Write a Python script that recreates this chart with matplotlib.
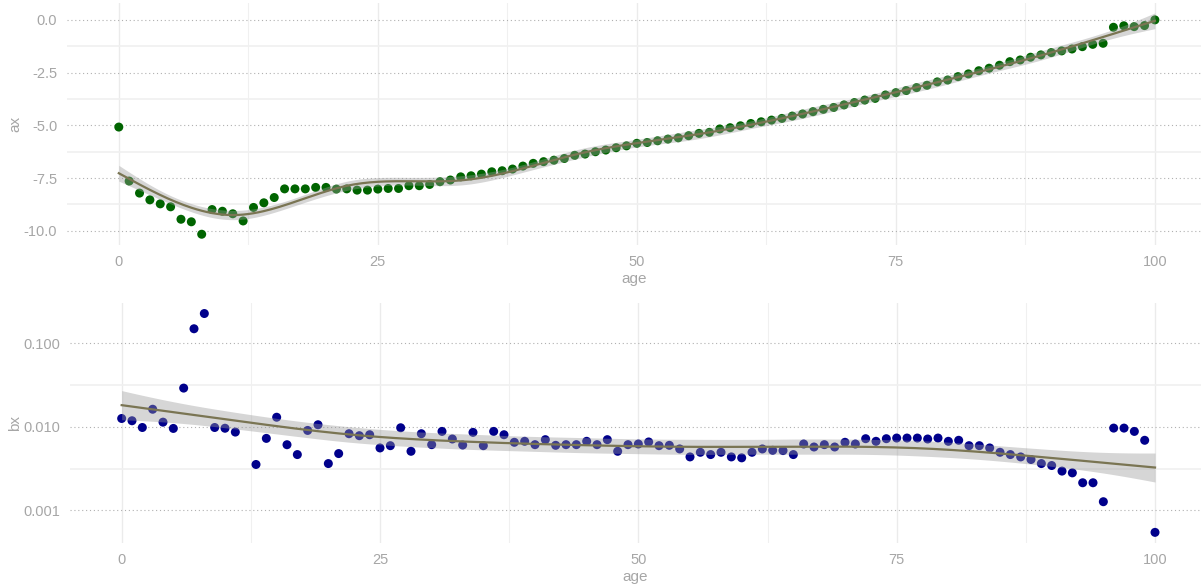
import numpy as np
import matplotlib
matplotlib.use("Agg")
import matplotlib.pyplot as plt
from matplotlib.ticker import FixedLocator, FixedFormatter

plt.rcParams['font.family'] = ['Liberation Sans', 'DejaVu Sans']

# ---------------- data ----------------
ages = list(range(0, 101))

ax_values = [
    -5.08, -7.64, -8.21, -8.53, -8.72, -8.86, -9.45, -9.57, -10.16, -8.99,
    -9.07, -9.19, -9.53, -8.89, -8.67, -8.42, -8.01, -8.01, -8.01, -7.94,
    -7.94, -8.02, -8.01, -8.07, -8.07, -8.02, -7.99, -7.99, -7.86, -7.86,
    -7.80, -7.67, -7.59, -7.44, -7.39, -7.31, -7.20, -7.15, -7.07, -6.93,
    -6.80, -6.72, -6.65, -6.57, -6.42, -6.36, -6.25, -6.17, -6.06, -5.97,
    -5.85, -5.81, -5.73, -5.65, -5.59, -5.49, -5.38, -5.33, -5.17, -5.11,
    -5.02, -4.91, -4.83, -4.75, -4.67, -4.56, -4.46, -4.35, -4.24, -4.15,
    -4.03, -3.92, -3.80, -3.72, -3.56, -3.45, -3.35, -3.21, -3.10, -2.94,
    -2.85, -2.69, -2.56, -2.41, -2.29, -2.15, -1.98, -1.90, -1.77, -1.66,
    -1.55, -1.47, -1.38, -1.27, -1.16, -1.11, -0.35, -0.28, -0.32, -0.27,
    0.00,
]

# age 12 has a non-positive bx and is dropped on the log scale
bx_values = [
    0.01256, 0.0118, 0.0098, 0.0162, 0.01135, 0.00955, 0.029, 0.1486, 0.226, 0.0098,
    0.0096, 0.00864, np.nan, 0.00354, 0.00726, 0.0130, 0.0061, 0.00465, 0.00904, 0.01057,
    0.00363, 0.00478, 0.00826, 0.00782, 0.00803, 0.00558, 0.00594, 0.00973, 0.00509, 0.00826,
    0.00611, 0.00880, 0.00714, 0.00605, 0.00857, 0.00594, 0.00880, 0.00803, 0.00652, 0.00670,
    0.00611, 0.00701, 0.00600, 0.00611, 0.00611, 0.00670, 0.00611, 0.00701, 0.00509, 0.00611,
    0.00622, 0.00658, 0.00594, 0.00600, 0.00543, 0.00436, 0.00495, 0.00465, 0.00495, 0.00436,
    0.00425, 0.00495, 0.00543, 0.00523, 0.00519, 0.00465, 0.00622, 0.00573, 0.00611, 0.00573,
    0.00652, 0.00622, 0.00720, 0.00670, 0.00720, 0.00733, 0.00733, 0.00733, 0.00714, 0.00733,
    0.00670, 0.00689, 0.00594, 0.00594, 0.00558, 0.00495, 0.00465, 0.00436, 0.00406, 0.00363,
    0.00344, 0.00295, 0.00281, 0.00214, 0.00214, 0.00127, 0.00964, 0.00964, 0.00880, 0.00689,
    0.000546,
]

x_ticks = [0, 25, 50, 75, 100]
x_tick_labels = ["0", "25", "50", "75", "100"]
ax_ticks = [0.0, -2.5, -5.0, -7.5, -10.0]
ax_tick_labels = ["0.0", "-2.5", "-5.0", "-7.5", "-10.0"]
bx_ticks = [0.1, 0.01, 0.001]
bx_tick_labels = ["0.100", "0.010", "0.001"]


# ---------------- penalised cubic regression spline (GAM-like smooth, REML) ----------------
def _ns_basis(knots):
    K = len(knots)
    kK = knots[-1]

    def d(k, xx, deriv):
        if deriv == 0:
            return (np.clip(xx - knots[k], 0, None) ** 3 - np.clip(xx - kK, 0, None) ** 3) / (kK - knots[k])
        return 6 * (np.clip(xx - knots[k], 0, None) - np.clip(xx - kK, 0, None)) / (kK - knots[k])

    def build(xx, deriv):
        if deriv == 0:
            cols = [np.ones_like(xx), xx]
        else:
            cols = [np.zeros_like(xx), np.zeros_like(xx)]
        for k in range(K - 2):
            cols.append(d(k, xx, deriv) - d(K - 2, xx, deriv))
        return np.column_stack(cols)

    return build


def gam_fit(x, y, xs, k=10, t=1.98, criterion="reml"):
    x = np.asarray(x, float)
    y = np.asarray(y, float)
    lo_, hi_ = x.min(), x.max()
    u = (x - lo_) / (hi_ - lo_)
    us = (np.asarray(xs, float) - lo_) / (hi_ - lo_)
    knots = np.linspace(0, 1, k)
    build = _ns_basis(knots)
    X = build(u, 0)
    grid = np.linspace(0, 1, 2001)
    D2 = build(grid, 2)
    S = (D2.T @ D2) * (grid[1] - grid[0])
    ev = np.linalg.eigvalsh(S)
    pos = ev[ev > ev.max() * 1e-9]
    r = len(pos)
    Mp = X.shape[1] - r
    n = len(y)
    XtX = X.T @ X
    Xty = X.T @ y
    best = None
    for lam in np.logspace(-8, 3, 400):
        Hm = XtX + lam * S
        M = np.linalg.inv(Hm)
        beta = M @ Xty
        rss = np.sum((y - X @ beta) ** 2)
        if criterion == "gcv":
            A_tr = np.trace(X @ M @ X.T)
            score = n * rss / (n - A_tr) ** 2
        else:
            pen = rss + lam * beta @ S @ beta
            phi = pen / (n - Mp)
            score = (n - Mp) * np.log(phi) - (r * np.log(lam) + np.sum(np.log(pos))) \
                + np.linalg.slogdet(Hm)[1]
        if best is None or score < best[0]:
            best = (score, lam, M, beta, rss)
    _, lam, M, beta, rss = best
    A_tr = np.trace(X @ M @ X.T)
    sigma2 = rss / (n - A_tr)
    Xs = build(us, 0)
    fit = Xs @ beta
    se = np.sqrt(sigma2 * np.einsum("ij,jk,ik->i", Xs, M, Xs))
    return fit, fit - t * se, fit + t * se


W, H = 1201, 588
fig = plt.figure(figsize=(W / 100, H / 100), dpi=100)

text_gray = "#a6a6a6"
grid_minor = "#f0f0f0"
grid_major = "#ebebeb"
line_col = "#7a7553"
ribbon_col = "#999999"


def px_axes(l, t, r, b):
    return fig.add_axes([l / W, 1 - b / H, (r - l) / W, (b - t) / H])


def style(a):
    for s in a.spines.values():
        s.set_visible(False)
    a.tick_params(which="both", length=0, colors=text_gray, labelsize=10.5, pad=7)
    a.set_xticks(x_ticks)
    a.set_xticklabels(x_tick_labels)
    a.set_xticks([12.5, 37.5, 62.5, 87.5], minor=True)
    a.grid(True, axis="x", which="major", color=grid_major, lw=1.0)
    a.grid(True, axis="x", which="minor", color=grid_minor, lw=0.8)
    a.grid(True, axis="y", which="major", color="#b0b0b0", lw=0.8, ls=(0, (1, 2.5)))
    a.grid(True, axis="y", which="minor", color=grid_minor, lw=1.2)
    a.set_axisbelow(True)
    a.set_xlabel("age", color=text_gray, fontsize=11, labelpad=2)
    a.set_facecolor("white")


xs = np.linspace(0, 100, 401)

# ---------------- top panel ----------------
a1 = px_axes(67, 3, 1201, 245)
style(a1)
a1.scatter(ages, ax_values, s=42, color="#006400", edgecolors="none", zorder=2)
f, lo, hi = gam_fit(ages, ax_values, xs)
a1.fill_between(xs, lo, hi, color=ribbon_col, alpha=0.4, lw=0, zorder=3)
a1.plot(xs, f, color=line_col, lw=1.6, zorder=4)
a1.set_xlim(-5, 104.45)
a1.set_ylim(-10.67, 0.80)
a1.set_yticks(ax_ticks)
a1.set_yticklabels(ax_tick_labels)
a1.yaxis.set_minor_locator(FixedLocator([-1.25, -3.75, -6.25, -8.75]))
a1.set_ylabel("ax", color=text_gray, fontsize=11, labelpad=1)

# ---------------- bottom panel ----------------
a2 = px_axes(70, 303, 1201, 543)
style(a2)
bx_arr = np.array(bx_values, float)
ok = ~np.isnan(bx_arr)
ages_arr = np.array(ages, float)
a2.set_yscale("log")
a2.scatter(ages_arr[ok], bx_arr[ok], s=42, color="#00008B", edgecolors="none", zorder=2)
f2, lo2, hi2 = gam_fit(ages_arr[ok], np.log10(bx_arr[ok]), xs)
a2.fill_between(xs, 10 ** lo2, 10 ** hi2, color=ribbon_col, alpha=0.4, lw=0, zorder=3)
a2.plot(xs, 10 ** f2, color=line_col, lw=1.6, zorder=4)
a2.set_xlim(-5, 104.45)
a2.set_ylim(10 ** -3.39, 10 ** -0.52)
a2.yaxis.set_major_locator(FixedLocator(bx_ticks))
a2.yaxis.set_major_formatter(FixedFormatter(bx_tick_labels))
a2.yaxis.set_minor_locator(FixedLocator([10 ** -1.5, 10 ** -2.5]))
a2.yaxis.set_minor_formatter(FixedFormatter(["", ""]))
a2.set_ylabel("bx", color=text_gray, fontsize=11, labelpad=1)

fig.savefig("out.png", dpi=100, facecolor="white")
